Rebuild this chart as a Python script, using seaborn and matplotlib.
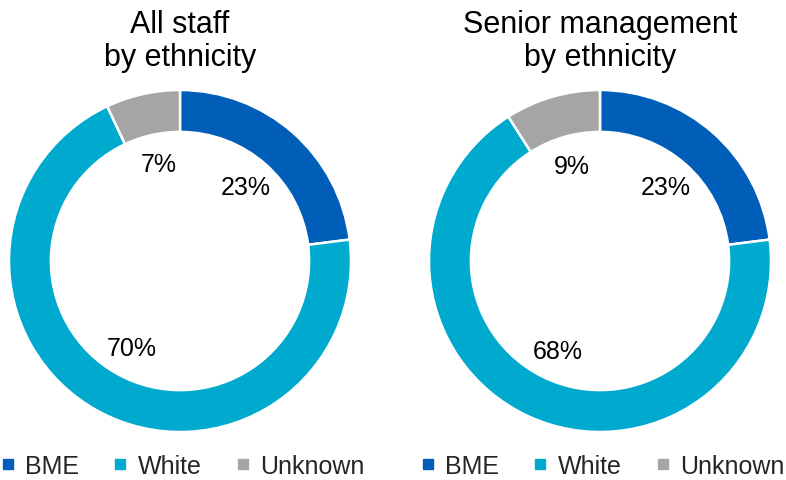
import matplotlib
matplotlib.use("Agg")
import matplotlib.pyplot as plt
from matplotlib.lines import Line2D
import seaborn as sns

categories = ["BME", "White", "Unknown"]
all_staff = [23, 70, 7]
senior_mgmt = [23, 68, 9]
titles = ["All staff\nby ethnicity", "Senior management\nby ethnicity"]

sns.set_theme(style="white")
plt.rcParams["font.family"] = ["Liberation Sans", "DejaVu Sans"]
colors = ["#005EB8", "#00A9CE", "#A5A5A5"]

W, H = 786, 481
fig = plt.figure(figsize=(W / 100, H / 100), dpi=100)

def px_axes(cx, cy, r):
    return fig.add_axes([(cx - r) / W, (H - cy - r) / H, 2 * r / W, 2 * r / H])

centers = [180, 600]
for cx, values, title in zip(centers, [all_staff, senior_mgmt], titles):
    ax = px_axes(cx, 262, 171)
    ax.pie(values, colors=colors, startangle=90, counterclock=False,
           radius=1.0, labels=[f"{v}%" for v in values], labeldistance=0.58,
           wedgeprops=dict(width=0.245, edgecolor="white", linewidth=1.8),
           textprops=dict(fontsize=18, color="black", ha="center", va="center"))
    ax.set_xlim(-1.0, 1.0)
    ax.set_ylim(-1.0, 1.0)
    ax.set_aspect("equal")
    ax.axis("off")
    fig.text(cx / W, 1 - 10 / H, title, ha="center", va="top",
             fontsize=22, linespacing=1.12, color="black")

    handles = [Line2D([0], [0], marker="s", linestyle="none", markersize=7,
                      markerfacecolor=c, markeredgecolor=c) for c in colors]
    fig.legend(handles, categories, loc="center", ncol=3,
               bbox_to_anchor=((cx + 3) / W, 14 / H), frameon=False,
               fontsize=18, handlelength=0.5, handletextpad=0.45,
               columnspacing=1.4, borderaxespad=0, borderpad=0)

fig.savefig("out.png", dpi=100)
